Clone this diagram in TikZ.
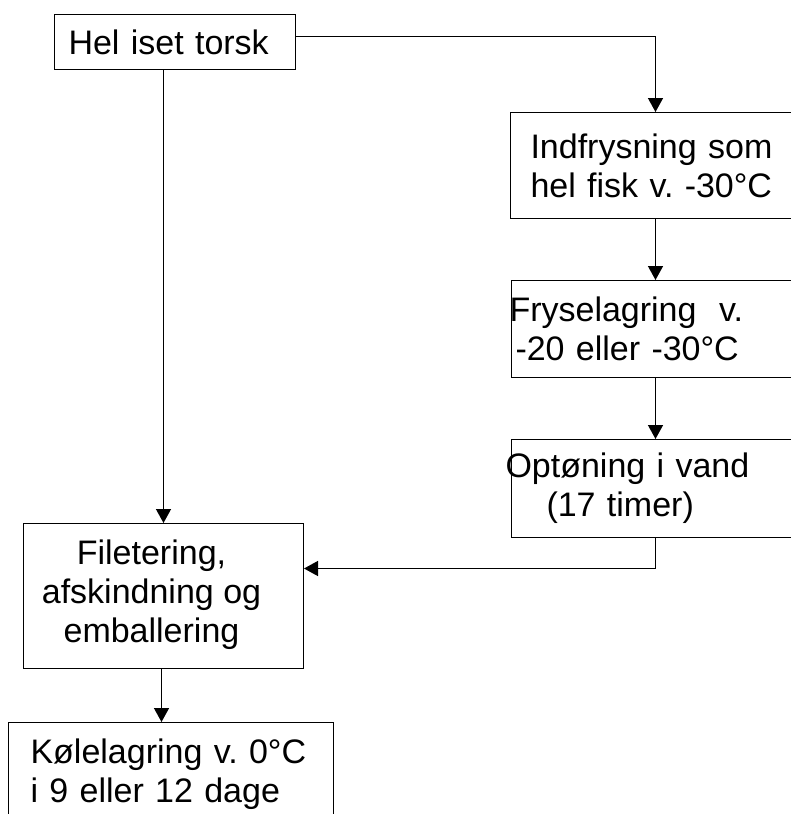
\documentclass[tikz,border=0pt]{standalone}
\usepackage{fontspec}
\setmainfont{Liberation Sans}
\usetikzlibrary{arrows.meta}
\frenchspacing

\tikzset{
  box/.style={draw, line width=1pt, anchor=north west, inner ysep=0pt,
    align=left, font=\fontsize{34}{39}\selectfont},
  arr/.style={line width=1.4pt, -{Triangle[length=14pt,width=15pt]}},
}

\begin{document}
\begin{tikzpicture}[x=1pt,y=1pt]
    \clip (0,0) rectangle (791,-814);
    % left column
    \node [box, inner xsep=14pt, text width=213pt, minimum height=55pt] (hel) at (54,-14) {Hel iset torsk};
    \node [box, inner xsep=0pt, minimum width=280pt, minimum height=145pt, align=center] (filet) at (23,-523)
        {\begin{tabular}{@{}c@{\hspace{24pt}}}Filetering,\\ afskindning og\\ emballering\end{tabular}};
    \node [box, inner xsep=12pt, inner ysep=16pt, text width=301pt] (kole) at (8,-722)
        {\hspace*{10pt}K\o{}lelagring v. 0°C\\ \hspace*{10pt}i 9 eller 12 dage};
    % right column
    \node [box, inner xsep=20pt, text width=250pt, minimum height=106pt] (indfrys) at (510,-112)
        {Indfrysning som\\ hel fisk v. -30°C};
    \node [box, inner xsep=0pt, text width=288pt, minimum height=97pt] (frys) at (511,-280)
        {\hspace*{-2pt}Fryselagring\ \ v.\\ \hspace*{4pt}-20 eller -30°C};
    \node [box, inner xsep=0pt, text width=288pt, minimum height=98pt] (opt) at (511,-439)
        {\hspace*{-6pt}Opt\o{}ning i vand\\ \hspace*{35pt}(17 timer)};
    % connectors
    \draw [arr] ([yshift=5.5pt]hel.east) -| (indfrys.north);
    \draw [arr] (hel.south -| filet.north) -- (filet.north);
    \draw [arr] (indfrys.south) -- (frys.north);
    \draw [arr] (frys.south) -- (opt.north);
    \draw [arr] (opt.south) |- ([yshift=27.5pt]filet.east);
    \draw [arr] ([xshift=-2pt]filet.south) -- ([xshift=-2pt]filet.south |- kole.north);
\end{tikzpicture}
\end{document}
